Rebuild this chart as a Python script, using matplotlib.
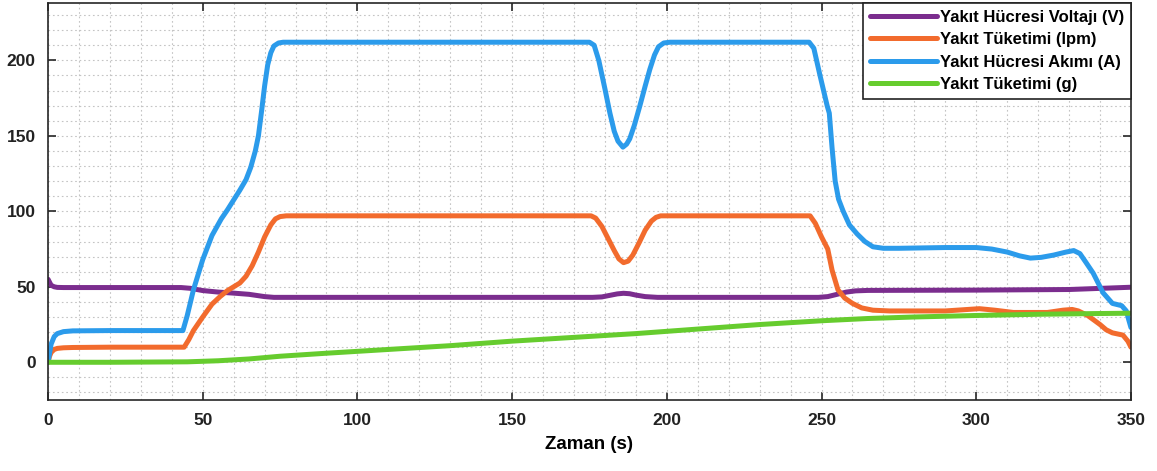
import matplotlib
matplotlib.use("Agg")
import matplotlib.pyplot as plt
from matplotlib.ticker import MultipleLocator

# Fuel-cell voltage (V)
t_voltage = [0, 0.5, 1, 2, 3, 5, 43, 46, 50, 55, 60, 65, 70, 73, 76, 176, 179, 182, 184,
             186, 188, 190, 193, 197, 249, 252, 255, 258, 261, 265, 300, 330, 350]
voltage = [55, 53, 51, 50, 49.6, 49.5, 49.5, 49, 47.5, 46.5, 45.8, 45, 43.5, 43, 43, 43,
           43.3, 44.5, 45.3, 45.7, 45.4, 44.5, 43.5, 43, 43, 43.5, 45, 46.5, 47.3, 47.6,
           47.8, 48.2, 49.7]

# Fuel consumption (lpm)
t_flow = [0, 0.5, 1, 2, 3, 5, 8, 20, 44, 45.5, 47, 50, 53, 55.6, 58, 60, 62, 64, 66, 68,
          70, 72, 73.5, 75, 77, 175.5, 177, 179, 181, 183, 184.5, 186, 187.5, 189, 191,
          193, 195, 196.5, 198, 246.3, 248, 250, 252, 253.4, 255.3, 257.5, 260, 263,
          266.6, 272, 290, 301, 306, 312, 318, 323, 328, 331, 333, 336, 338, 340, 342,
          344, 347.4, 349, 350]
flow = [0, 4, 6.5, 8.5, 9.2, 9.6, 9.8, 10, 10, 15, 21, 30, 38.5, 43.5, 47.5, 50, 52.5, 57,
        64, 73, 83, 91, 95, 96.5, 97, 97, 95.5, 90, 82, 74, 68.5, 66, 67, 71, 79, 87.5,
        93.5, 96, 97, 97, 92, 83, 75, 61, 48, 42.5, 39, 36, 34.5, 34, 34, 35.5, 34.5, 33,
        33, 33, 34.5, 35, 34, 31, 28, 25, 21.5, 19.5, 18, 14, 10]

# Fuel-cell current (A)
t_current = [0, 0.5, 1, 2, 3, 5, 8, 20, 43.6, 45, 47, 50, 53, 56, 58, 62, 64, 65.5, 67, 68,
             69, 70, 71, 72, 73, 74.5, 76, 175, 176.5, 178, 180, 181.6, 183, 184.2, 185.8,
             187, 188, 189.5, 191.3, 193, 194.5, 196, 197.3, 199, 201, 246, 247.5, 249.5,
             251.8, 252.5, 253.4, 254.4, 255.5, 257, 259, 261.5, 264, 266.6, 270, 275,
             290, 300, 305, 310, 314, 317.5, 321, 325, 329, 331.5, 333.5, 335.5, 337.8,
             341, 344, 347, 348.5, 349.3, 350]
current = [0, 6, 12, 17, 19, 20.3, 20.8, 21, 21, 31, 48, 68, 84, 95, 101, 114, 121, 129,
           140, 150, 166, 183, 197, 205, 209.5, 211.5, 212, 212, 210, 200, 181, 165, 153,
           146.5, 142.5, 144.5, 148, 157, 170, 183, 194, 203.5, 209, 211.5, 212, 212, 208,
           190, 170, 165, 142, 120, 108, 100, 91, 85, 80, 76.5, 75.5, 75.5, 76, 76, 75,
           73, 70.5, 69, 69.5, 71, 73, 74, 72, 66, 59, 46, 39, 37.5, 34, 28, 23]

# Cumulative fuel consumption (g)
t_mass = [0, 20, 45, 55, 65, 75, 90, 110, 130, 150, 170, 190, 210, 230, 250, 265, 280, 300,
          320, 340, 350]
mass = [0, 0, 0.3, 1, 2.2, 4, 6, 8.5, 11, 14, 16.5, 19, 22, 25, 27.5, 29, 30, 31, 31.8,
        32.3, 32.5]

labels = ["Yakıt Hücresi Voltajı (V)", "Yakıt Tüketimi (lpm)",
          "Yakıt Hücresi Akımı (A)", "Yakıt Tüketimi (g)"]
colors = ["#7B2D8E", "#F26B2D", "#2B9BEB", "#66CC2E"]

x_ticks = [0, 50, 100, 150, 200, 250, 300, 350]
y_ticks = [0, 50, 100, 150, 200]

plt.rcParams["font.family"] = ["Liberation Sans", "DejaVu Sans"]

fig = plt.figure(figsize=(11.57, 4.71), dpi=100)
ax = fig.add_axes([0.0415, 0.1507, 0.936, 0.843])

series = [(t_voltage, voltage), (t_flow, flow), (t_current, current), (t_mass, mass)]
for (t, v), lab, col in zip(series, labels, colors):
    ax.plot(t, v, color=col, lw=3.6, label=lab, solid_capstyle="round",
            solid_joinstyle="round")

ax.set_xlim(0, 350)
ax.set_ylim(-25, 238)
ax.set_xticks(x_ticks)
ax.set_yticks(y_ticks)
ax.xaxis.set_minor_locator(MultipleLocator(10))
ax.yaxis.set_minor_locator(MultipleLocator(10))
ax.grid(which="both", linestyle=(0, (1.5, 2.5)), color="#c4c4c4", linewidth=0.8)
ax.set_axisbelow(True)

ax.tick_params(which="major", direction="in", length=6, width=1.2, top=True, right=True,
               labelsize=12.5, pad=9, color="#262626")
ax.tick_params(which="minor", length=0)
for lbl in ax.get_xticklabels() + ax.get_yticklabels():
    lbl.set_fontweight("bold")
    lbl.set_color("#222222")
for sp in ax.spines.values():
    sp.set_color("#262626")
    sp.set_linewidth(1.2)

ax.set_xlabel("Zaman (s)", fontsize=13.5, fontweight="bold", labelpad=6)

leg = ax.legend(loc="upper right", borderaxespad=0, fancybox=False, framealpha=1,
                edgecolor="#222222", prop={"weight": "bold", "size": 12},
                handlelength=4.0, handletextpad=0.2, labelspacing=0.45,
                borderpad=0.4)
leg.get_frame().set_linewidth(1.2)

fig.savefig("out.png", dpi=100)
